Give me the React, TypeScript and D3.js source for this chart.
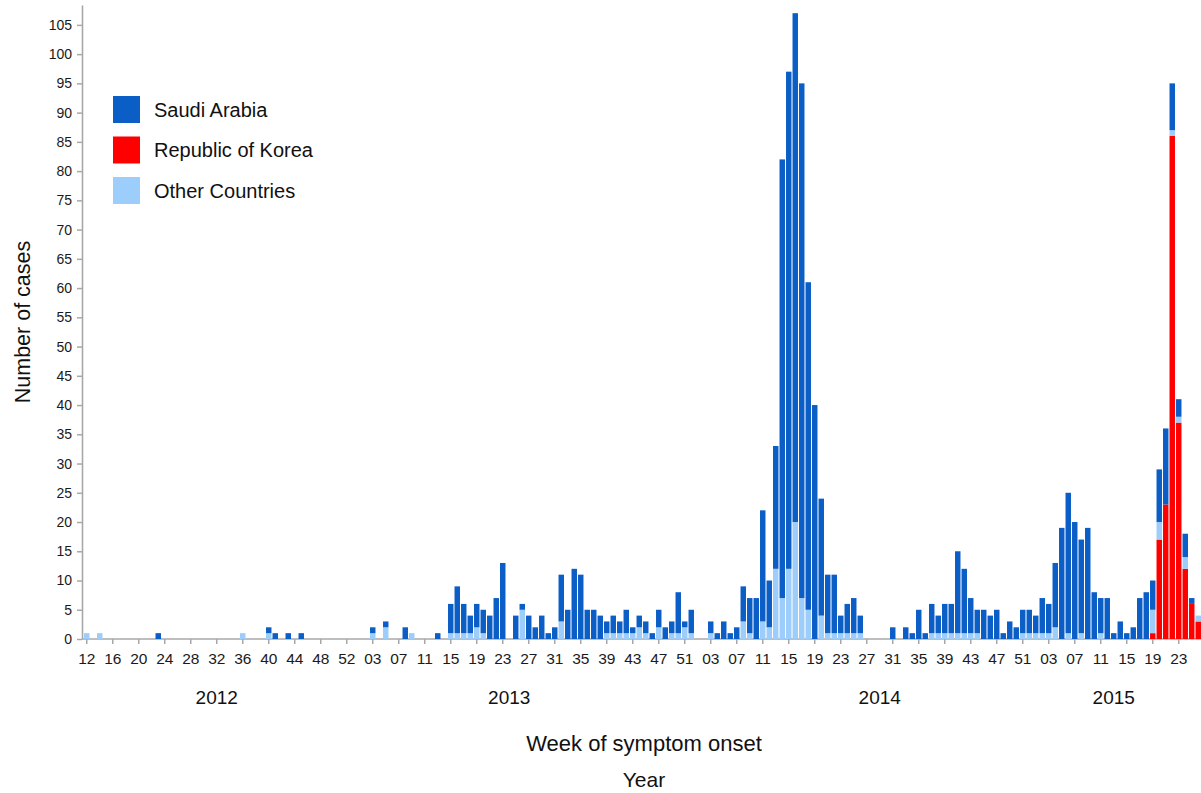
import React, { useRef, useEffect } from "react";
import * as d3 from "d3";

// weeks shown for each year
const years = [2012, 2013, 2014, 2015];
const firstWeek = [12, 1, 1, 1];
const lastWeek = [53, 52, 52, 26];
// week under which the year caption is centred
const yearLabelWeek = [32, 24, 29, 13];

// cases per week, Saudi Arabia
const saudi2012 = [
  0, 0, 0, 0, 0, 0, 0, 0, 0, 0, // w12-21
  0, 1, 0, 0, 0, 0, 0, 0, 0, 0, // w22-31
  0, 0, 0, 0, 0, 0, 0, 0, 1, 1, // w32-41
  0, 1, 0, 1, 0, 0, 0, 0, 0, 0, // w42-51
  0, 0,
];
const saudi2013 = [
  0, 0, 1, 0, 1, 0, 0, 2, 0, 0,
  0, 0, 1, 0, 5, 8, 5, 3, 4, 4,
  4, 7, 13, 0, 4, 1, 4, 2, 4, 1,
  2, 8, 5, 12, 11, 5, 5, 4, 2, 3,
  2, 4, 1, 2, 2, 1, 3, 2, 2, 7,
  1, 4,
];
const saudi2014 = [
  0, 0, 2, 1, 3, 1, 2, 6, 6, 7,
  19, 8, 21, 75, 85, 87, 88, 56, 40, 20,
  10, 10, 3, 5, 6, 3, 0, 0, 0, 0,
  2, 0, 2, 1, 5, 1, 5, 3, 5, 5,
  14, 11, 6, 4, 5, 4, 5, 1, 3, 2,
  4, 4,
];
const saudi2015 = [
  3, 6, 5, 11, 19, 24, 20, 16, 19, 8,
  6, 7, 1, 3, 1, 2, 7, 8, 5, 9,
  13, 8, 3, 4, 1, 0,
];

// cases per week, Republic of Korea
const korea2012 = new Array(42).fill(0);
const korea2013 = new Array(52).fill(0);
const korea2014 = new Array(52).fill(0);
const korea2015 = [
  0, 0, 0, 0, 0, 0, 0, 0, 0, 0,
  0, 0, 0, 0, 0, 0, 0, 0, 1, 17,
  23, 86, 37, 12, 6, 3,
];

// cases per week, other countries
const other2012 = [
  1, 0, 1, 0, 0, 0, 0, 0, 0, 0,
  0, 0, 0, 0, 0, 0, 0, 0, 0, 0,
  0, 0, 0, 0, 1, 0, 0, 0, 1, 0,
  0, 0, 0, 0, 0, 0, 0, 0, 0, 0,
  0, 0,
];
const other2013 = [
  0, 0, 1, 0, 2, 0, 0, 0, 1, 0,
  0, 0, 0, 0, 1, 1, 1, 1, 2, 1,
  0, 0, 0, 0, 0, 5, 0, 0, 0, 0,
  0, 3, 0, 0, 0, 0, 0, 0, 1, 1,
  1, 1, 1, 2, 1, 0, 2, 0, 1, 1,
  2, 1,
];
const other2014 = [
  0, 0, 1, 0, 0, 0, 0, 3, 1, 0,
  3, 2, 12, 7, 12, 20, 7, 5, 0, 4,
  1, 1, 1, 1, 1, 1, 0, 0, 0, 0,
  0, 0, 0, 0, 0, 0, 1, 1, 1, 1,
  1, 1, 1, 1, 0, 0, 0, 0, 0, 0,
  1, 1,
];
const other2015 = [
  1, 1, 1, 2, 0, 1, 0, 1, 0, 0,
  1, 0, 0, 0, 0, 0, 0, 0, 4, 3,
  0, 1, 1, 2, 0, 1,
];

const saudiByYear = [saudi2012, saudi2013, saudi2014, saudi2015];
const koreaByYear = [korea2012, korea2013, korea2014, korea2015];
const otherByYear = [other2012, other2013, other2014, other2015];

// stacking order bottom -> top
const seriesKeys = ["korea", "other", "saudi"];
const colors = { saudi: "#0b5ec6", korea: "#ff0000", other: "#9dcdfb" };
// legend order
const legendKeys = ["saudi", "korea", "other"];
const legendNames = ["Saudi Arabia", "Republic of Korea", "Other Countries"];

const yTicks = d3.range(0, 106, 5);

const FONT = "'Liberation Sans', Arial, Helvetica, sans-serif";

const App = () => {
  const svgRef = useRef<SVGSVGElement>(null);

  useEffect(() => {
    document.body.style.margin = "0";
    const svg = d3.select(svgRef.current);
    svg.selectAll("*").remove();

    // one row per week
    const rows: any[] = [];
    years.forEach((yr, yi) => {
      d3.range(firstWeek[yi], lastWeek[yi] + 1).forEach((wk, j) => {
        rows.push({
          key: `${yr}-${wk}`,
          year: yr,
          week: wk,
          saudi: saudiByYear[yi][j],
          korea: koreaByYear[yi][j],
          other: otherByYear[yi][j],
        });
      });
    });

    const step = 6.5;
    const left = 83.5;
    const x = d3
      .scaleBand()
      .domain(rows.map((r) => r.key))
      .range([left, left + rows.length * step])
      .paddingInner(0.16)
      .paddingOuter(0.08);

    const y = d3.scaleLinear().domain([0, 108.4]).range([639, 5]);

    // x axis
    const tickKeys = rows.filter((r, i) => i % 4 === 0).map((r) => r.key);
    const weekOf = (k: string) => String(k.split("-")[1]).padStart(2, "0");
    const xAxis = d3
      .axisBottom(x)
      .tickValues(tickKeys)
      .tickFormat(weekOf)
      .tickSize(5)
      .tickSizeOuter(0)
      .tickPadding(9);
    const gx = svg.append("g").attr("transform", "translate(0,639)").call(xAxis);
    gx.select(".domain").remove();
    gx.append("line")
      .attr("x1", 82)
      .attr("x2", 1201)
      .attr("stroke", "#a8a8a8")
      .attr("stroke-width", 1.6);
    gx.selectAll(".tick line").attr("stroke", "#a8a8a8").attr("stroke-width", 1.5);
    gx.selectAll(".tick text")
      .attr("fill", "#1a1a1a")
      .style("font-size", "15.5px")
      .style("font-family", FONT);

    // y axis
    const yAxis = d3
      .axisLeft(y)
      .tickValues(yTicks)
      .tickSize(5)
      .tickSizeOuter(0)
      .tickPadding(5);
    const gy = svg.append("g").attr("transform", "translate(82,0)").call(yAxis);
    gy.select(".domain").attr("stroke", "#a8a8a8").attr("stroke-width", 1.6);
    gy.selectAll(".tick line").attr("stroke", "#a8a8a8").attr("stroke-width", 1.5);
    gy.selectAll(".tick text")
      .attr("fill", "#1a1a1a")
      .style("font-size", "14px")
      .style("font-family", FONT);

    // stacked bars
    const stacked = d3.stack().keys(seriesKeys)(rows);
    svg
      .append("g")
      .selectAll("g")
      .data(stacked)
      .join("g")
      .attr("fill", (s: any) => colors[s.key])
      .selectAll("rect")
      .data((s: any) => s.filter((d: any) => d[1] > d[0]))
      .join("rect")
      .attr("x", (d: any) => x(d.data.key))
      .attr("width", x.bandwidth())
      .attr("y", (d: any) => y(d[1]))
      .attr("height", (d: any) => y(d[0]) - y(d[1]));

    // year captions
    svg
      .append("g")
      .selectAll("text")
      .data(years)
      .join("text")
      .attr("x", (yr, i) => x(`${yr}-${yearLabelWeek[i]}`) + x.bandwidth() / 2)
      .attr("y", 704)
      .attr("text-anchor", "middle")
      .style("font-size", "19px")
      .style("font-family", FONT)
      .attr("fill", "#111")
      .text((yr) => yr);

    svg
      .append("text")
      .attr("x", 644)
      .attr("y", 751)
      .attr("text-anchor", "middle")
      .style("font-size", "22px")
      .style("font-family", FONT)
      .attr("fill", "#111")
      .text("Week of symptom onset");

    svg
      .append("text")
      .attr("x", 644)
      .attr("y", 787)
      .attr("text-anchor", "middle")
      .style("font-size", "21px")
      .style("font-family", FONT)
      .attr("fill", "#111")
      .text("Year");

    svg
      .append("text")
      .attr("transform", "translate(30,322) rotate(-90)")
      .attr("text-anchor", "middle")
      .style("font-size", "21.5px")
      .style("font-family", FONT)
      .attr("fill", "#111")
      .text("Number of cases");

    // legend
    const legend = svg
      .append("g")
      .selectAll("g")
      .data(legendKeys)
      .join("g")
      .attr("transform", (k, i) => `translate(113,${96 + i * 40.5})`);
    legend
      .append("rect")
      .attr("width", 27)
      .attr("height", 27)
      .attr("fill", (k) => colors[k]);
    legend
      .append("text")
      .attr("x", 41)
      .attr("y", 13.5)
      .attr("dy", "0.35em")
      .style("font-size", "20px")
      .style("font-family", FONT)
      .attr("fill", "#111")
      .text((k, i) => legendNames[i]);
  }, []);

  return (
    <svg
      ref={svgRef}
      width={1201}
      height={793}
      style={{ display: "block", background: "#fff" }}
    />
  );
};

export default App;
